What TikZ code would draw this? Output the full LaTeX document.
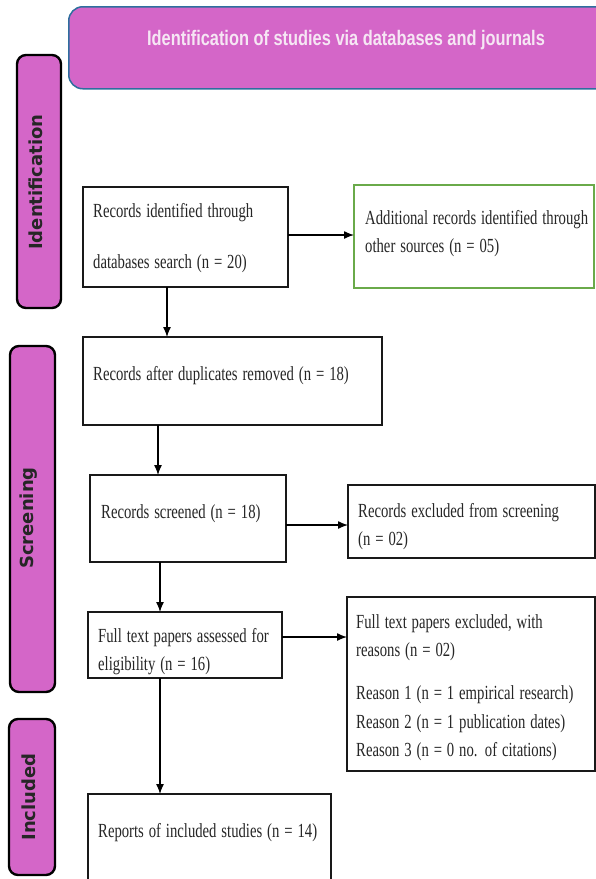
\documentclass[tikz,border=0pt]{standalone}
\usepackage{fontspec}
\usepackage{graphicx}
\setmainfont{Liberation Serif}
\newfontfamily\hdrfont{Liberation Sans}
\newfontfamily\sidefont{DejaVu Sans}
\usetikzlibrary{arrows.meta}
\definecolor{pmag}{HTML}{D466C8}
\definecolor{hdrline}{HTML}{2E6E9E}
\definecolor{gbox}{HTML}{6AAA4A}
\definecolor{hdrtext}{HTML}{F6E6F4}
\newcommand\sq[1]{\scalebox{0.735}[1]{#1}}
\begin{document}
\begin{tikzpicture}[x=1pt,y=-1pt,
  box/.style={draw=black!90, line width=1.8pt, fill=white, rectangle, inner sep=0pt, outer sep=0pt, anchor=north west},
  gboxst/.style={box, draw=gbox},
  side/.style={draw=black, line width=2.4pt, fill=pmag, rectangle, rounded corners=9pt, inner sep=0pt, outer sep=0pt, anchor=north west},
  sidetxt/.style={font=\sidefont\bfseries\fontsize{18}{20}\selectfont, text=black!85, rotate=90, inner sep=0pt},
  txt/.style={font=\fontsize{20}{28.5}\selectfont, text=black!85, anchor=base west, align=left, text width=260pt, inner sep=0pt},
  arr/.style={line width=1.3pt, draw=black, -{Latex[length=10pt,width=8pt]}}
]
\clip (0,0) rectangle (596,879);
\fill[white] (0,0) rectangle (596,879);

% header
\node[draw=hdrline, line width=1.5pt, fill=pmag, rectangle, rounded corners=14pt, inner sep=0pt, anchor=north west,
      minimum width=600pt, minimum height=82pt] (hdr) at (68,6) {};
\node[anchor=base, font=\hdrfont\bfseries\fontsize{21}{24}\selectfont, text=hdrtext, inner sep=0pt] (hdrt) at (346,45)
  {\scalebox{0.78}[1]{Identification of studies via databases and journals}};

% side bars
\node[side, minimum width=44pt, minimum height=253pt] (sI) at (17,55) {};
\node[sidetxt] (lI) at (36,182) {Identification};
\node[side, minimum width=45pt, minimum height=346pt] (sS) at (10,346) {};
\node[sidetxt] (lS) at (29,518) {Screening};
\node[side, minimum width=46pt, minimum height=156pt] (sN) at (9,719) {};
\node[sidetxt] (lN) at (29,797) {Included};

% boxes
\node[box, minimum width=205pt, minimum height=100pt] (b1) at (83,187) {};
\node[gboxst, minimum width=240pt, minimum height=103pt] (b1g) at (354,185) {};
\node[box, minimum width=299pt, minimum height=88pt] (b2) at (83,337) {};
\node[box, minimum width=196pt, minimum height=87pt] (b3) at (90,475) {};
\node[box, minimum width=247pt, minimum height=73pt] (b4) at (348,485) {};
\node[box, minimum width=194pt, minimum height=66pt] (b5) at (88,612) {};
\node[box, minimum width=248pt, minimum height=174pt] (b6) at (347,597) {};
\node[box, minimum width=243pt, minimum height=100pt] (b7) at (88,794) {};

% texts
\node[txt] (t1) at (93,217) {\sq{Records identified through}\\[22.5pt]\sq{databases search (n = 20)}};
\node[txt] (t1g) at (365,224) {\sq{Additional records identified through}\\\sq{other sources (n = 05)}};
\node[txt] (t2) at (93,380) {\sq{Records after duplicates removed (n = 18)}};
\node[txt] (t3) at (101,518) {\sq{Records screened (n = 18)}};
\node[txt] (t4) at (358,517) {\sq{Records excluded from screening}\\\sq{(n = 02)}};
\node[txt] (t5) at (98,642) {\sq{Full text papers assessed for}\\\sq{eligibility (n = 16)}};
\node[txt] (t6) at (356,628) {\sq{Full text papers excluded, with}\\\sq{reasons (n = 02)}\\[14.5pt]\sq{Reason 1 (n = 1 empirical research)}\\\sq{Reason 2 (n = 1 publication dates)}\\\sq{Reason 3 (n = 0 no. of citations)}};
\node[txt] (t7) at (98,837) {\sq{Reports of included studies (n = 14)}};

% arrows
\draw[arr] ([yshift=2pt]b1.east) -- ([yshift=2pt]b1.east -| b1g.west);
\draw[arr] ([xshift=-18.5pt]b1.south) -- ([xshift=-18.5pt]b1.south |- b2.north);
\draw[arr] ([xshift=-74.5pt]b2.south) -- ([xshift=-74.5pt]b2.south |- b3.north);
\draw[arr] ([yshift=-6.5pt]b3.east) -- ([yshift=-6.5pt]b3.east -| b4.west);
\draw[arr] ([xshift=-28pt]b3.south) -- ([xshift=-28pt]b3.south |- b5.north);
\draw[arr] ([yshift=8pt]b5.east) -- ([yshift=8pt]b5.east -| b6.west);
\draw[arr] ([xshift=-25pt]b5.south) -- ([xshift=-25pt]b5.south |- b7.north);
\end{tikzpicture}
\end{document}
